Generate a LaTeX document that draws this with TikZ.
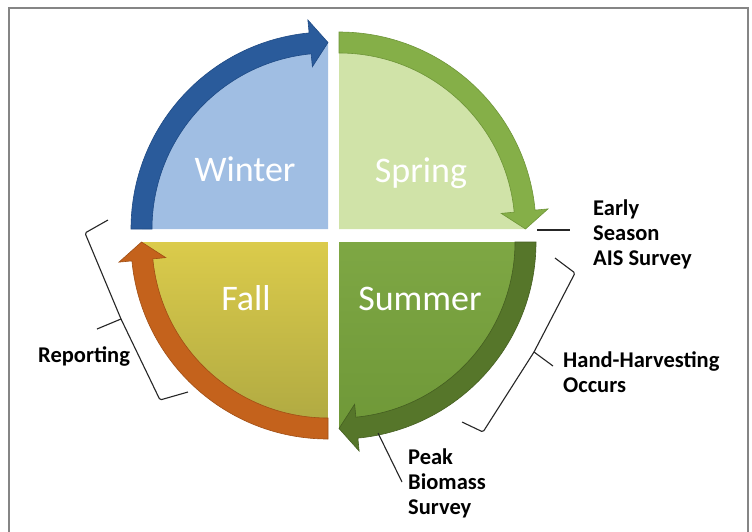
\documentclass[tikz,border=0pt]{standalone}
\usepackage{fontspec}
\setmainfont{Carlito}
\definecolor{winterfill}{HTML}{A0BEE3}
\definecolor{winterarrow}{HTML}{2A5B9B}
\definecolor{winteredge}{HTML}{1E4A85}
\definecolor{springfill}{HTML}{D0E3A8}
\definecolor{springarrow}{HTML}{85AF48}
\definecolor{springedge}{HTML}{6E9538}
\definecolor{summertop}{HTML}{7EA744}
\definecolor{summerbot}{HTML}{6F9838}
\definecolor{summerarrow}{HTML}{56762A}
\definecolor{summeredge}{HTML}{455F21}
\definecolor{falltop}{HTML}{DBCB4B}
\definecolor{fallbot}{HTML}{AFA942}
\definecolor{fallarrow}{HTML}{C4621C}
\definecolor{falledge}{HTML}{A04F15}
\definecolor{framegray}{HTML}{858585}
\newcommand\seasonarrow[3]{%
  \begin{scope}[shift={(#1)}]
  \path[#3] (#2:197) arc[start angle=#2, delta angle=-84.5, radius=197]
    -- ({#2-84.5}:210) -- ({#2-90}:186.5) -- ({#2-84.5}:163) -- ({#2-84.5}:176)
    arc[start angle={#2-84.5}, delta angle=84.5, radius=176] -- cycle;
  \end{scope}}
\begin{document}
\begin{tikzpicture}[x=1pt,y=1pt,
  seasonlabel/.style={text=white, font=\fontsize{36}{40}\selectfont, anchor=base, inner sep=0pt},
  callout/.style={font=\bfseries\fontsize{22.5}{25}\selectfont, anchor=base west, inner sep=0pt, text=black},
  leader/.style={draw=black!85, line width=1.1pt},
  bracepath/.style={draw=black!85, line width=1.1pt, rounded corners=1.5pt, line join=round},
  pageframe/.style={draw=framegray, line width=2.5pt},
  arrowband/.style={fill=#1arrow, draw=#1edge, line width=0.6pt}]
\useasboundingbox (0,0) rectangle (752,-531);
\fill[white] (0,0) rectangle (752,-531);
\draw[pageframe] (9,-540) -- (9,-8) -- (748,-8) -- (748,-540);

\coordinate (W) at (328,-229);
\coordinate (S) at (339,-229);
\coordinate (F) at (328,-242);
\coordinate (U) at (339,-242);

% quadrant fills
\fill[winterfill] (W) -- ++(180:186) arc[start angle=180, end angle=90, radius=186] -- cycle;
\fill[springfill] (S) -- ++(90:186) arc[start angle=90, end angle=0, radius=186] -- cycle;
\shade[top color=summertop, bottom color=summerbot] (U) -- ++(0:186) arc[start angle=0, end angle=-90, radius=186] -- cycle;
\shade[top color=falltop, bottom color=fallbot] (F) -- ++(270:186) arc[start angle=270, end angle=180, radius=186] -- cycle;

% arrows
\seasonarrow{W}{180}{arrowband=winter}
\seasonarrow{S}{90}{arrowband=spring}
\seasonarrow{U}{0}{arrowband=summer}
\seasonarrow{F}{270}{arrowband=fall}

% season labels
\node[seasonlabel] (winter) at (245,-181) {Winter};
\node[seasonlabel] (spring) at (421,-182) {Spring};
\node[seasonlabel] (fall) at (246,-310) {Fall};
\node[seasonlabel] (summer) at (420,-310) {Summer};

% callouts
\node[callout] (early) at (593,-215) {\vtop{\hbox{Early}\hbox{Season}\hbox{AIS Survey}}};
\node[callout] (hand) at (563,-367) {\vtop{\hbox{Hand-Harvesting}\hbox{Occurs}}};
\node[callout] (peak) at (408,-464) {\vtop{\hbox{Peak}\hbox{Biomass}\hbox{Survey}}};
\node[callout] (report) at (38,-362) {Reporting};

% leaders
\coordinate (e1) at (537,-230);
\coordinate (e2) at (570,-230);
\draw[leader] (e1) -- (e2);
\coordinate (p1) at (378,-433);
\coordinate (p2) at (402,-482);
\draw[leader] (p1) -- (p2);

% hand-harvesting brace
\coordinate (hA) at (555,-258);
\coordinate (hB) at (575,-273);
\coordinate (hM) at (534,-352);
\coordinate (hT) at (553,-366);
\coordinate (hE) at (483,-432);
\coordinate (hF) at (462,-422);
\draw[bracepath] (hA) -- (hB) -- (hM) -- (hE) -- (hF);
\draw[bracepath] (hM) -- (hT);

% reporting brace
\coordinate (rA) at (108,-220);
\coordinate (rB) at (85,-233);
\coordinate (rM) at (121,-319);
\coordinate (rT) at (97,-329);
\coordinate (rE) at (160,-400);
\coordinate (rF) at (188,-392);
\draw[bracepath] (rA) -- (rB) -- (rM) -- (rE) -- (rF);
\draw[bracepath] (rM) -- (rT);
\end{tikzpicture}
\end{document}
